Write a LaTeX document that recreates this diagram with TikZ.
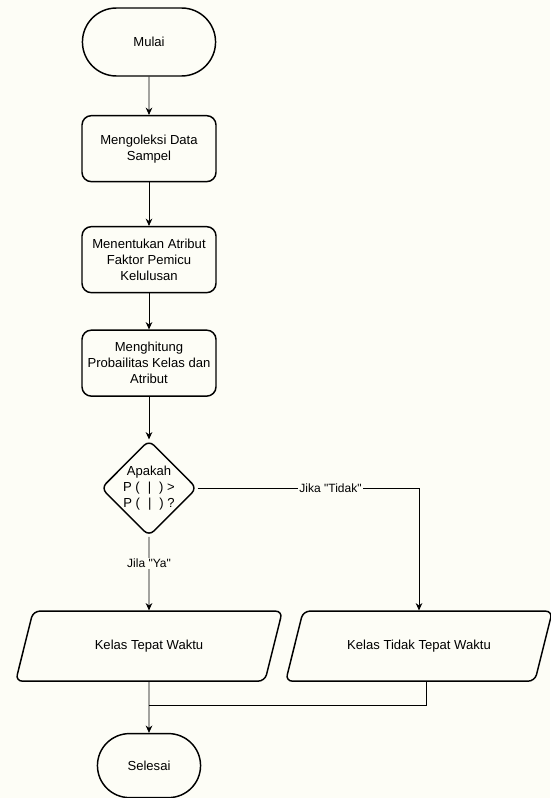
\documentclass[tikz,border=0pt]{standalone}
\usepackage{fontspec}
\setmainfont{Liberation Sans}
\usetikzlibrary{shapes.geometric,shapes.misc,positioning,arrows.meta}
\definecolor{kertas}{RGB}{253,253,246}

\begin{document}
\begin{tikzpicture}[font=\fontsize{9.8}{12}\selectfont,on grid,node distance=80pt,
	>={Stealth[length=5.5pt,width=5pt]},
	terminal/.style={rounded rectangle,draw,line width=1.1pt,minimum width=106.5pt,minimum height=51pt},
	proses/.style={rectangle,rounded corners=7pt,draw,line width=1.1pt,minimum width=100.5pt,minimum height=49.5pt,align=center},
	keputusan/.style={diamond,rounded corners=5pt,draw,line width=1.1pt,minimum width=70.5pt,minimum height=72pt,inner sep=0pt,align=center},
	keluaran/.style={trapezium,trapezium left angle=76,trapezium right angle=104,trapezium stretches body,
		rounded corners=5pt,draw,line width=1.1pt,inner ysep=21.75pt,text height=7pt,text depth=2pt,
		minimum width=200pt},
	garis/.style={line width=0.6pt},
	ket/.style={fill=kertas,inner sep=1pt,font=\fontsize{9}{11}\selectfont}]

	\fill[kertas] (0,0) rectangle (412.5pt,-598.5pt);
	\useasboundingbox (0,0) rectangle (412.5pt,-598.5pt);

	\node[terminal] (mulai) at (111.75pt,-31.5pt) {Mulai};
	\node[proses] (koleksi) [below=80pt of mulai] {Mengoleksi Data\\Sampel};
	\node[proses] (atribut) [below=83.25pt of koleksi] {Menentukan Atribut\\Faktor Pemicu\\Kelulusan};
	\node[proses] (hitung) [below=77.6pt of atribut] {Menghitung\\Probailitas Kelas dan\\Atribut};
	\node[keputusan] (cek) [below=93.75pt of hitung] {Apakah\\P (\hspace{6pt}|\hspace{6pt}) >\\P (\hspace{6pt}|\hspace{6pt}) ?};
	\node[keluaran] (ya) [below=118.5pt of cek] {Kelas Tepat Waktu};
	\node[keluaran] (tidak) [right=202.5pt of ya] {Kelas Tidak Tepat Waktu};
	\node[terminal,minimum width=84pt,minimum height=48pt] (selesai) [below=89.6pt of ya] {Selesai};
	\coordinate[below=18pt of ya.south] (gabung);


	\path[->,garis]

	(mulai) edge (koleksi)
	(koleksi) edge (atribut)
	(atribut) edge (hitung)
	(hitung) edge (cek)

	(cek) edge node[ket,pos=0.36] {Jila \textquotedbl Ya\textquotedbl} (ya)
	(ya) edge (selesai);

	\draw[->,garis] (cek.east) -| node[ket,pos=0.3] {Jika \textquotedbl Tidak\textquotedbl} (tidak.north);
	\draw[garis] ([xshift=5.5pt]tidak.south) |- (gabung);

\end{tikzpicture}
\end{document}
